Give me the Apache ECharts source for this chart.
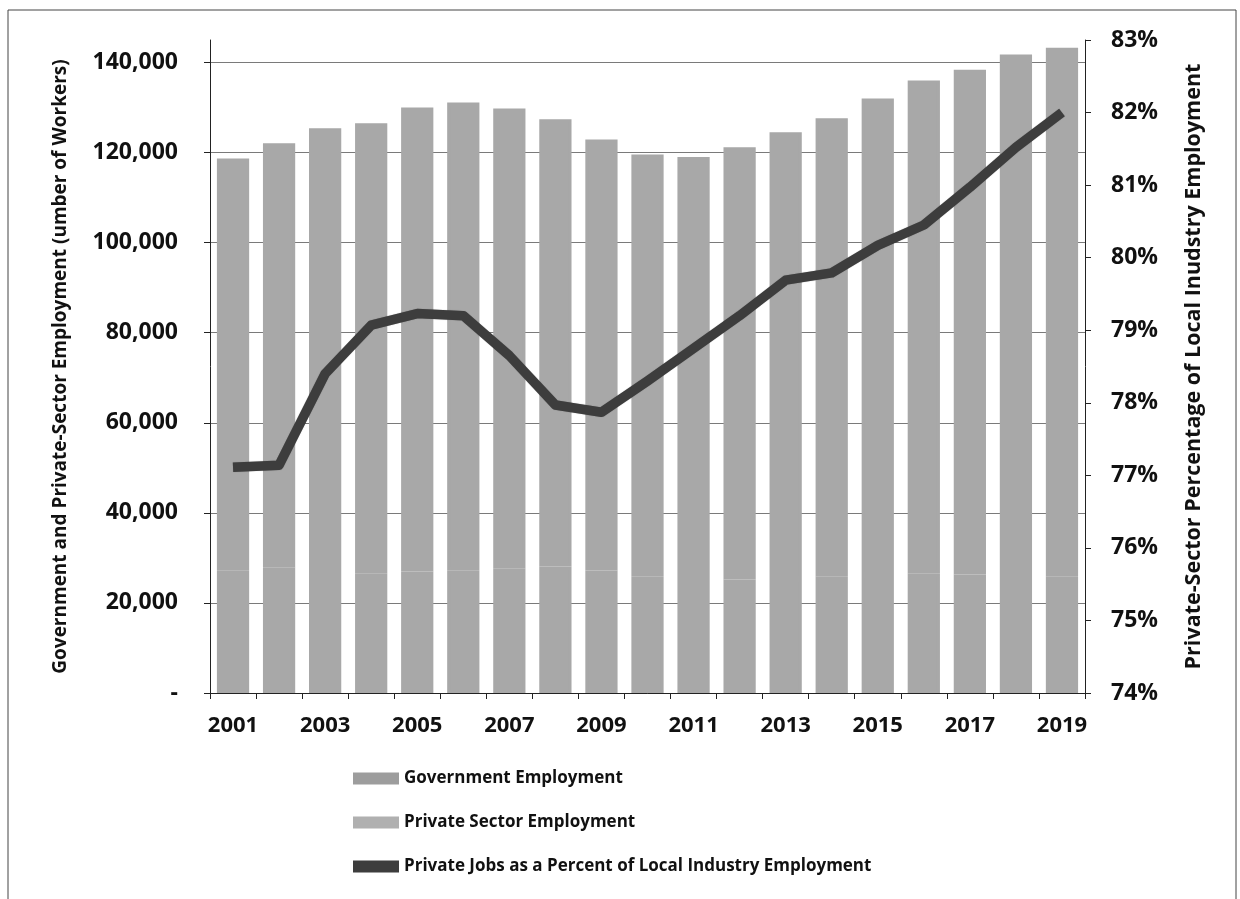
<!DOCTYPE html>
<html>
<head>
<meta charset="utf-8">
<script src="https://cdn.jsdelivr.net/npm/echarts@6/dist/echarts.min.js"></script>
<style>html,body{margin:0;padding:0;background:#fff;}#chart{width:1240px;height:899px;}</style>
</head>
<body>
<div id="chart"></div>
<script>
const years = ['2001','2002','2003','2004','2005','2006','2007','2008','2009','2010','2011','2012','2013','2014','2015','2016','2017','2018','2019'];
const governmentEmployment = [27170,27910,27090,26480,27000,27270,27710,28070,27200,25950,25290,25210,25290,25790,26180,26590,26340,26200,25790];
const privateEmployment = [91530,94190,98310,100020,103000,103830,102090,99330,95700,93650,93710,95990,99210,101810,105820,109410,112060,115600,117510];
const privatePercent = [77.11,77.14,78.40,79.07,79.23,79.20,78.65,77.97,77.87,78.30,78.75,79.20,79.69,79.79,80.17,80.45,80.97,81.52,82.00];

const FONT = '"Open Sans", "Noto Sans", sans-serif';
const BAR = '#a8a8a8';
const chart = echarts.init(document.getElementById('chart'));
chart.setOption({
  animation: false,
  backgroundColor: '#ffffff',
  textStyle: { fontFamily: FONT },
  graphic: [{
    type: 'rect', shape: { x: 8, y: 10, width: 1228, height: 900 },
    style: { fill: 'none', stroke: '#444', lineWidth: 1 }, silent: true
  }],
  grid: { left: 210, right: 155, top: 40, bottom: 206 },
  legend: {
    orient: 'vertical', left: 348, top: 765, itemGap: 27,
    itemWidth: 46, itemHeight: 12,
    textStyle: { fontFamily: FONT, fontWeight: 700, fontSize: 17, color: '#111' },
    data: [
      { name: 'Government Employment', icon: 'rect', itemStyle: { color: '#9d9d9d', borderWidth: 0 } },
      { name: 'Private Sector Employment', icon: 'rect', itemStyle: { color: '#b0b0b0', borderWidth: 0 } },
      { name: 'Private Jobs as a Percent of Local Industry Employment', icon: 'rect' }
    ]
  },
  xAxis: {
    type: 'category', data: years, boundaryGap: true,
    axisLine: { lineStyle: { color: '#222', width: 1 } },
    axisTick: { show: true, alignWithLabel: false, interval: 0, length: 6, lineStyle: { color: '#222' } },
    axisLabel: { interval: 1, margin: 22, fontFamily: FONT, fontWeight: 700, fontSize: 22, color: '#111' }
  },
  yAxis: [{
    type: 'value', min: 0, max: 145000, interval: 20000,
    name: 'Government and Private-Sector Employment (umber of Workers)',
    nameLocation: 'middle', nameGap: 140, nameRotate: 90,
    nameTextStyle: { fontFamily: FONT, fontWeight: 700, fontSize: 19, color: '#111' },
    axisLine: { show: true, lineStyle: { color: '#222' } },
    axisTick: { show: true, length: 6, lineStyle: { color: '#222' } },
    axisLabel: {
      showMaxLabel: false, margin: 32, fontFamily: FONT, fontWeight: 700, fontSize: 23, color: '#111',
      formatter: v => v === 0 ? '-' : v.toLocaleString('en-US')
    },
    splitLine: { show: true, showMaxLine: false, lineStyle: { color: '#7a7a7a', width: 1.2 } }
  }, {
    type: 'value', min: 74, max: 83, interval: 1, position: 'right',
    name: 'Private-Sector Percentage of Local Inudstry Employment',
    nameLocation: 'middle', nameGap: 98, nameRotate: 90,
    nameTextStyle: { fontFamily: FONT, fontWeight: 700, fontSize: 21.5, color: '#111' },
    axisLine: { show: true, lineStyle: { color: '#222' } },
    axisTick: { show: true, length: 6, lineStyle: { color: '#222' } },
    axisLabel: { margin: 26, fontFamily: FONT, fontWeight: 700, fontSize: 23, color: '#111', formatter: v => v + '%' },
    splitLine: { show: false }
  }],
  series: [{
    name: 'Government Employment', type: 'bar', stack: 'emp', yAxisIndex: 0,
    data: governmentEmployment, barWidth: '70%', z: 3,
    itemStyle: { color: BAR, borderColor: BAR, borderWidth: 3 }
  }, {
    name: 'Private Sector Employment', type: 'bar', stack: 'emp', yAxisIndex: 0,
    data: privateEmployment, barWidth: '70%', z: 2,
    itemStyle: { color: BAR, borderColor: BAR, borderWidth: 3 }
  }, {
    name: 'Private Jobs as a Percent of Local Industry Employment', type: 'line', yAxisIndex: 1,
    data: privatePercent, showSymbol: false, symbol: 'none', smooth: false,
    lineStyle: { color: '#3d3d3d', width: 9.5, join: 'round', cap: 'butt', shadowColor: 'rgba(0,0,0,0.3)', shadowBlur: 1 },
    itemStyle: { color: '#3d3d3d' }, z: 5
  }]
});
</script>
</body>
</html>
